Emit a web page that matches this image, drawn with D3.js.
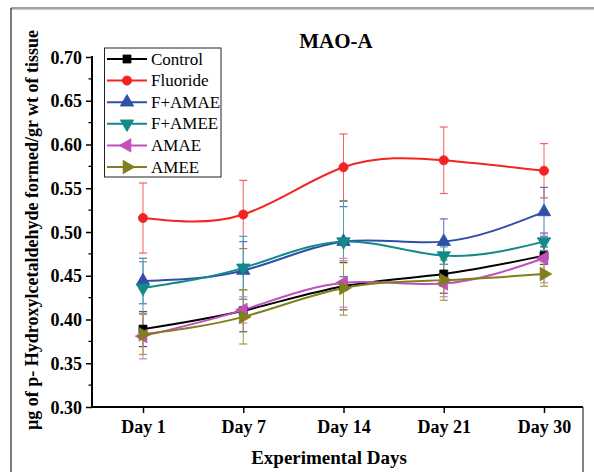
<!DOCTYPE html>
<html>
<head>
<meta charset="utf-8">
<script src="https://cdn.jsdelivr.net/npm/d3@7"></script>
<style>
  html, body { margin: 0; padding: 0; background: #fff; }
  svg { display: block; }
</style>
</head>
<body>
<svg id="chart" width="594" height="472"></svg>
<script>
const days = ["Day 1", "Day 7", "Day 14", "Day 21", "Day 30"];
const yTicks = [0.30, 0.35, 0.40, 0.45, 0.50, 0.55, 0.60, 0.65, 0.70];

const seriesNames = ["Control", "Fluoride", "F+AMAE", "F+AMEE", "AMAE", "AMEE"];
const control     = [0.389, 0.410, 0.438, 0.452, 0.473];
const controlErr  = [0.020, 0.024, 0.027, 0.022, 0.010];
const fluoride    = [0.516, 0.520, 0.574, 0.582, 0.570];
const fluorideErr = [0.040, 0.039, 0.038, 0.038, 0.031];
const famae       = [0.444, 0.456, 0.489, 0.489, 0.523];
const famaeErr    = [0.026, 0.033, 0.040, 0.026, 0.028];
const famee       = [0.436, 0.459, 0.489, 0.473, 0.489];
const fameeErr    = [0.030, 0.036, 0.046, 0.010, 0.010];
const amae        = [0.381, 0.411, 0.442, 0.441, 0.470];
const amaeErr     = [0.026, 0.015, 0.028, 0.015, 0.028];
const amee        = [0.383, 0.403, 0.436, 0.445, 0.452];
const ameeErr     = [0.023, 0.031, 0.031, 0.023, 0.014];

const colors = ["#000000", "#f42323", "#2f4fa8", "#128a8a", "#c24fbd", "#7f7f1e"];
const errColors = ["#555555", "#f46060", "#5a72c0", "#40a8a8", "#d07ccc", "#9c9c40"];
const symbols = [
  {type: d3.symbolSquare, size: 64, rot: 0},
  {type: d3.symbolCircle, size: 66, rot: 0},
  {type: d3.symbolTriangle, size: 78, rot: 0},
  {type: d3.symbolTriangle, size: 78, rot: 180},
  {type: d3.symbolTriangle, size: 78, rot: -90},
  {type: d3.symbolTriangle, size: 78, rot: 90}
];
const values = [control, fluoride, famae, famee, amae, amee];
const errors = [controlErr, fluorideErr, famaeErr, fameeErr, amaeErr, ameeErr];

const series = seriesNames.map((name, i) => ({
  name, color: colors[i], errColor: errColors[i], sym: symbols[i],
  pts: days.map((d, j) => ({day: d, v: values[i][j], e: errors[i][j]}))
}));

const svg = d3.select("#chart");
const serif = "'Liberation Serif', 'Times New Roman', serif";

// outer frame
svg.append("line").attr("x1", 11).attr("x2", 594).attr("y1", 8).attr("y2", 8)
  .attr("stroke", "#444").attr("stroke-width", 1.2);
svg.append("line").attr("x1", 11).attr("x2", 594).attr("y1", 9.6).attr("y2", 9.6)
  .attr("stroke", "#ccc").attr("stroke-width", 1);
svg.append("line").attr("x1", 11).attr("x2", 11).attr("y1", 8).attr("y2", 472)
  .attr("stroke", "#333").attr("stroke-width", 1.3);

const x = d3.scalePoint().domain(days).range([143, 544]);
const y = d3.scaleLinear().domain([0.30, 0.70]).range([407, 57]);

// y axis
const yAxis = d3.axisLeft(y).tickValues(yTicks).tickFormat(d3.format(".2f")).tickSize(6).tickSizeOuter(0);
const gy = svg.append("g").attr("transform", "translate(92,0)").call(yAxis);
gy.select(".domain").remove();
gy.selectAll(".tick line").attr("stroke", "#000").attr("stroke-width", 1.5);
gy.selectAll(".tick text").attr("font-family", serif).attr("font-weight", "bold")
  .attr("font-size", 18).attr("fill", "#000").attr("x", -10).attr("dy", "0.34em");
// minor ticks
const minor = d3.range(0.325, 0.70, 0.05);
gy.selectAll(".minor").data(minor).enter().append("line")
  .attr("x1", 0).attr("x2", -3.5).attr("y1", d => y(d)).attr("y2", d => y(d))
  .attr("stroke", "#000").attr("stroke-width", 1.3);
svg.append("line").attr("x1", 92).attr("x2", 92).attr("y1", 56).attr("y2", 408)
  .attr("stroke", "#000").attr("stroke-width", 2);

// x axis
const xAxis = d3.axisBottom(x).tickSize(6).tickSizeOuter(0);
const gx = svg.append("g").attr("transform", "translate(0,407)").call(xAxis);
gx.select(".domain").remove();
gx.selectAll(".tick line").attr("stroke", "#000").attr("stroke-width", 1.5);
gx.selectAll(".tick text").attr("font-family", serif).attr("font-weight", "bold")
  .attr("font-size", 18).attr("fill", "#000").attr("y", 13).attr("dy", "0.71em");
svg.append("line").attr("x1", 91).attr("x2", 583).attr("y1", 407).attr("y2", 407)
  .attr("stroke", "#000").attr("stroke-width", 2);
svg.append("line").attr("x1", 583).attr("x2", 583).attr("y1", 407).attr("y2", 472)
  .attr("stroke", "#333").attr("stroke-width", 1.2);

// titles
svg.append("text").attr("x", 336).attr("y", 48).attr("text-anchor", "middle")
  .attr("font-family", serif).attr("font-weight", "bold").attr("font-size", 21)
  .text("MAO-A");
svg.append("text").attr("x", 329).attr("y", 464).attr("text-anchor", "middle")
  .attr("font-family", serif).attr("font-weight", "bold").attr("font-size", 19)
  .text("Experimental Days");
svg.append("text").attr("transform", "translate(38,230) rotate(-90)").attr("text-anchor", "middle")
  .attr("font-family", serif).attr("font-weight", "bold").attr("font-size", 18)
  .text("µg of p- Hydroxylcetaldehyde formed/gr wt of tissue");

// error bars
const plot = svg.append("g");
series.forEach(s => {
  const g = plot.append("g");
  s.pts.forEach(p => {
    const cx = x(p.day);
    g.append("line").attr("x1", cx).attr("x2", cx).attr("y1", y(p.v - p.e)).attr("y2", y(p.v + p.e))
      .attr("stroke", s.errColor).attr("stroke-width", 1);
    [p.v - p.e, p.v + p.e].forEach(v => {
      g.append("line").attr("x1", cx - 4).attr("x2", cx + 4).attr("y1", y(v)).attr("y2", y(v))
        .attr("stroke", s.errColor).attr("stroke-width", 1.2);
    });
  });
});

// lines
const line = d3.line().x(d => x(d.day)).y(d => y(d.v)).curve(d3.curveNatural);
series.forEach(s => {
  plot.append("path").datum(s.pts).attr("d", line)
    .attr("fill", "none").attr("stroke", s.color).attr("stroke-width", 2);
});

// markers
series.forEach(s => {
  const sym = d3.symbol().type(s.sym.type).size(s.sym.size);
  plot.selectAll(null).data(s.pts).enter().append("path")
    .attr("d", sym)
    .attr("transform", d => `translate(${x(d.day)},${y(d.v)}) rotate(${s.sym.rot})`)
    .attr("fill", s.color).attr("stroke", s.color).attr("stroke-width", 0.8);
});

// legend
const lg = svg.append("g");
lg.append("rect").attr("x", 104.5).attr("y", 48).attr("width", 116.5).attr("height", 129)
  .attr("fill", "#fff").attr("stroke", "#222").attr("stroke-width", 1);
series.forEach((s, i) => {
  const ly = 59 + i * 21.6;
  lg.append("line").attr("x1", 107).attr("x2", 147).attr("y1", ly).attr("y2", ly)
    .attr("stroke", s.color).attr("stroke-width", 2);
  lg.append("path").attr("d", d3.symbol().type(s.sym.type).size(s.sym.size)())
    .attr("transform", `translate(127,${ly}) rotate(${s.sym.rot})`)
    .attr("fill", s.color).attr("stroke", s.color).attr("stroke-width", 0.8);
  lg.append("text").attr("x", 151).attr("y", ly).attr("dy", "0.33em")
    .attr("font-family", serif).attr("font-size", 17).attr("fill", "#000")
    .text(s.name);
});
</script>
</body>
</html>
